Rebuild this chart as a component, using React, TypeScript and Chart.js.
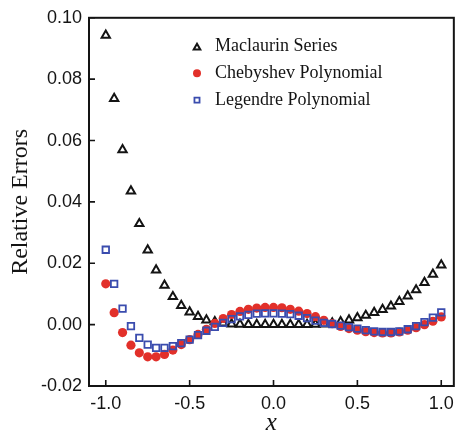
import React, { useEffect, useRef } from 'react';
import { Chart, registerables } from 'chart.js';
import { drawPoint } from 'chart.js/helpers';

Chart.register(...registerables);

// Sample positions on [-1, 1]
const X_POINTS = [
  -1.0, -0.95, -0.9, -0.85, -0.8, -0.75, -0.7, -0.65, -0.6, -0.55, -0.5,
  -0.45, -0.4, -0.35, -0.3, -0.25, -0.2, -0.15, -0.1, -0.05, 0.0,
  0.05, 0.1, 0.15, 0.2, 0.25, 0.3, 0.35, 0.4, 0.45, 0.5,
  0.55, 0.6, 0.65, 0.7, 0.75, 0.8, 0.85, 0.9, 0.95, 1.0,
];

const MACLAURIN = [
  0.0943, 0.0737, 0.057, 0.0435, 0.0329, 0.0243, 0.0178, 0.0128, 0.0091, 0.0062, 0.0041,
  0.0026, 0.0015, 0.0009, 0.0005, 0.0002, 0.0001, 0.0, 0.0, 0.0, 0.0,
  0.0, 0.0, 0.0, 0.0, 0.0001, 0.0002, 0.0005, 0.0009, 0.0015, 0.0022,
  0.003, 0.0039, 0.0049, 0.006, 0.0075, 0.0093, 0.0113, 0.0137, 0.0164, 0.0194,
];

const CHEBYSHEV = [
  0.0133, 0.0039, -0.0026, -0.0067, -0.0092, -0.0105, -0.0105, -0.0097, -0.0083, -0.0065, -0.0049,
  -0.0032, -0.0015, 0.0004, 0.002, 0.0033, 0.0043, 0.005, 0.0054, 0.0056, 0.0056,
  0.0055, 0.005, 0.0044, 0.0036, 0.0026, 0.0014, 0.0003, -0.0006, -0.0013, -0.0018,
  -0.0023, -0.0026, -0.0027, -0.0027, -0.0024, -0.0018, -0.001, 0.0, 0.0011, 0.0025,
];

const LEGENDRE = [
  0.0244, 0.0133, 0.0052, -0.0005, -0.0043, -0.0065, -0.0076, -0.0076, -0.007, -0.006, -0.0049,
  -0.0034, -0.002, -0.0007, 0.0006, 0.0018, 0.0027, 0.0032, 0.0036, 0.0037, 0.0037,
  0.0036, 0.0034, 0.0029, 0.0021, 0.0013, 0.0006, 0.0002, -0.0003, -0.0008, -0.0013,
  -0.0018, -0.0022, -0.0024, -0.0024, -0.0022, -0.0015, -0.0005, 0.0008, 0.0023, 0.004,
];

const SERIES_LABELS = ['Maclaurin Series', 'Chebyshev Polynomial', 'Legendre Polynomial'];

const X_TICKS = [-1.0, -0.5, 0.0, 0.5, 1.0];
const Y_TICKS = [-0.02, 0.0, 0.02, 0.04, 0.06, 0.08, 0.1];

const RED = '#e2302a';
const BLUE = '#3a4cae';
const INK = '#141414';

const toPoints = (ys: number[]) => X_POINTS.map((x, i) => ({ x, y: ys[i] }));

// Closed frame around the plot with inward-pointing ticks on the left and bottom
const framePlugin = {
  id: 'frame',
  afterDraw(chart: any) {
    const { ctx, chartArea, scales } = chart;
    const { left, right, top, bottom } = chartArea;
    ctx.save();
    ctx.strokeStyle = INK;
    ctx.lineWidth = 2;
    ctx.strokeRect(left, top, right - left, bottom - top);
    ctx.lineWidth = 1.6;
    ctx.beginPath();
    for (const t of scales.x.ticks) {
      const px = scales.x.getPixelForValue(t.value);
      ctx.moveTo(px, bottom);
      ctx.lineTo(px, bottom - 6);
    }
    for (const t of scales.y.ticks) {
      const py = scales.y.getPixelForValue(t.value);
      ctx.moveTo(left, py);
      ctx.lineTo(left + 6, py);
    }
    ctx.stroke();
    ctx.restore();
  },
};

// Legend inside the plot area, upper middle
const insetLegendPlugin = {
  id: 'insetLegend',
  afterDraw(chart: any) {
    const { ctx } = chart;
    const markerX = 197;
    const textX = 215;
    const firstY = 46.5;
    const rowGap = 26.8;
    const markerRadius = [3.8, 4, 3.6];
    ctx.save();
    chart.data.datasets.forEach((ds: any, i: number) => {
      const y = firstY + i * rowGap;
      ctx.fillStyle = ds.pointBackgroundColor;
      ctx.strokeStyle = ds.pointBorderColor;
      ctx.lineWidth = ds.pointBorderWidth;
      drawPoint(
        ctx,
        {
          pointStyle: ds.pointStyle,
          radius: markerRadius[i],
          borderWidth: ds.pointBorderWidth,
          rotation: 0,
        } as any,
        markerX,
        ds.pointStyle === 'triangle' ? y + 1 : y,
      );
      ctx.fillStyle = INK;
      ctx.font = '18px "Liberation Serif", "Times New Roman", serif';
      ctx.textBaseline = 'middle';
      ctx.textAlign = 'left';
      ctx.fillText(ds.label, textX, y);
    });
    ctx.restore();
  },
};

export default function App() {
  const canvasRef = useRef<HTMLCanvasElement | null>(null);

  useEffect(() => {
    if (!canvasRef.current) return;
    Chart.defaults.font.family = '"Liberation Sans", Arial, sans-serif';

    const chart = new Chart(canvasRef.current, {
      type: 'scatter',
      data: {
        datasets: [
          {
            label: SERIES_LABELS[0],
            data: toPoints(MACLAURIN),
            pointStyle: 'triangle',
            pointRadius: 4.8,
            pointBorderWidth: 2,
            pointBorderColor: INK,
            pointBackgroundColor: 'rgba(255,255,255,0)',
            order: 3,
          },
          {
            label: SERIES_LABELS[1],
            data: toPoints(CHEBYSHEV),
            pointStyle: 'circle',
            pointRadius: 4.6,
            pointBorderWidth: 0,
            pointBorderColor: RED,
            pointBackgroundColor: RED,
            order: 2,
          },
          {
            label: SERIES_LABELS[2],
            data: toPoints(LEGENDRE),
            pointStyle: 'rect',
            pointRadius: 4.6,
            pointBorderWidth: 1.8,
            pointBorderColor: BLUE,
            pointBackgroundColor: 'rgba(255,255,255,0)',
            order: 1,
          },
        ],
      },
      options: {
        responsive: false,
        animation: false,
        devicePixelRatio: 1,
        layout: { padding: { left: 0, top: 15, right: 5, bottom: 0 } },
        plugins: {
          legend: { display: false },
          tooltip: { enabled: false },
        },
        scales: {
          x: {
            type: 'linear',
            position: 'bottom',
            min: -1.1,
            max: 1.075,
            afterBuildTicks: (scale: any) => {
              scale.ticks = X_TICKS.map((value) => ({ value }));
            },
            afterFit: (scale: any) => {
              scale.height = 47;
            },
            grid: { display: false, drawTicks: false },
            border: { display: false },
            ticks: {
              padding: 7,
              color: INK,
              font: { size: 18 },
              callback: (v: any) => Number(v).toFixed(1),
            },
            title: {
              display: true,
              text: 'x',
              color: INK,
              font: { family: '"Liberation Serif", "Times New Roman", serif', size: 25, style: 'italic', lineHeight: 0.75 },
              padding: { top: 0, bottom: 0 },
            },
          },
          y: {
            type: 'linear',
            min: -0.02,
            max: 0.1,
            afterBuildTicks: (scale: any) => {
              scale.ticks = Y_TICKS.map((value) => ({ value }));
            },
            afterFit: (scale: any) => {
              scale.width = 89;
            },
            grid: { display: false, drawTicks: false },
            border: { display: false },
            ticks: {
              padding: 7,
              color: INK,
              font: { size: 18 },
              callback: (v: any) => Number(v).toFixed(2),
            },
            title: {
              display: true,
              text: 'Relative Errors',
              color: INK,
              font: { family: '"Liberation Serif", "Times New Roman", serif', size: 24 },
              padding: { top: 6, bottom: 0 },
            },
          },
        },
      },
      plugins: [framePlugin, insetLegendPlugin],
    });

    return () => chart.destroy();
  }, []);

  return (
    <div style={{ position: 'absolute', left: 0, top: 0, width: 461, height: 433, background: '#fff' }}>
      <canvas ref={canvasRef} width={461} height={433} />
    </div>
  );
}
